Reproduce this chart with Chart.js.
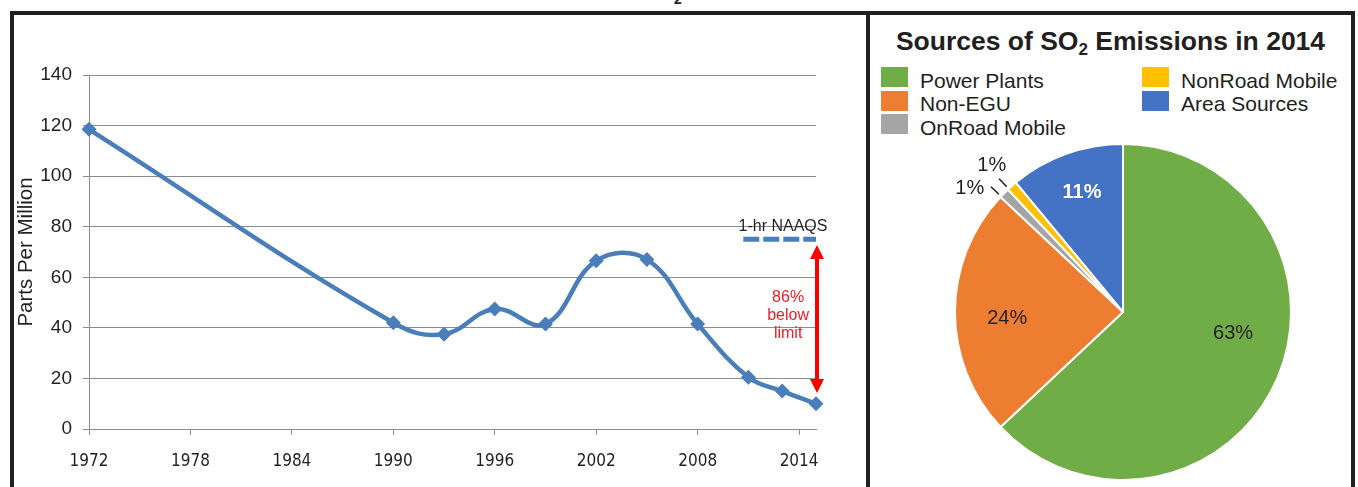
<!DOCTYPE html>
<html>
<head>
<meta charset="utf-8">
<script src="https://cdn.jsdelivr.net/npm/chart.js@4.4.1/dist/chart.umd.min.js"></script>
<style>
  body { margin: 0; background: #fff; width: 1358px; height: 487px; overflow: hidden; position: relative;
         font-family: "Liberation Sans", Arial, sans-serif; color: #231f20; }
  #frame { position: absolute; left: 10px; top: 11px; width: 1345px; height: 490px; border: 4px solid #231f20;
           border-bottom: none; box-sizing: border-box; }
  #divider { position: absolute; left: 866px; top: 11px; width: 4px; height: 476px; background: #231f20; }
  #cut { position: absolute; left: 674px; top: -9px; font-size: 14px; font-weight: bold; }
  #lineBox { position: absolute; left: 14px; top: 15px; }
  #pieBox { position: absolute; left: 948px; top: 137px; }
  #pieTitle { position: absolute; left: 870px; width: 481px; top: 28px; text-align: center; font-weight: bold;
              font-size: 26.5px; line-height: 26px; white-space: nowrap; }
  #pieTitle sub { font-size: 17px; position: relative; top: 5px; vertical-align: baseline; }
  #legend { position: absolute; left: 881px; top: 68.5px; display: grid; grid-template-columns: 261px 210px;
            grid-template-rows: repeat(3, 23.5px); grid-auto-flow: column; font-size: 21px; line-height: 23.5px; }
  .item { display: flex; align-items: flex-start; white-space: nowrap; }
  .sw { width: 27px; height: 20px; margin-top: -1.5px; margin-right: 12px; flex: none; }
</style>
</head>
<body>
<div id="frame"></div>
<div id="divider"></div>
<div id="cut">2</div>
<div id="lineBox"><canvas id="lineChart" width="852" height="472"></canvas></div>
<div id="pieTitle">Sources of SO<sub>2</sub> Emissions in 2014</div>
<div id="legend"></div>
<div id="pieBox"><canvas id="pieChart" width="350" height="350"></canvas></div>
<script>
// SO2 concentration, parts per million
const years = [1972, 1990, 1993, 1996, 1999, 2002, 2005, 2008, 2011, 2013, 2015];
const ppm = [118.5, 42, 37.5, 47.5, 41.5, 66.5, 67, 41.5, 20.5, 15, 10];
const yearTicks = [1972, 1978, 1984, 1990, 1996, 2002, 2008, 2014];
const ppmTicks = [0, 20, 40, 60, 80, 100, 120, 140];

// 1-hr NAAQS note
const naaqsLevel = 75;
const naaqsFrom = 2010.7;
const naaqsTo = 2015;
const arrowTop = 72.8;
const arrowBottom = 14.2;
const belowText = ['86%', 'below', 'limit'];

// 2014 sources
const sources = ['Power Plants', 'Non-EGU', 'OnRoad Mobile', 'NonRoad Mobile', 'Area Sources'];
const shares = [63, 24, 1, 1, 11];
const sourceColors = ['#70ad47', '#ed7d31', '#a5a5a5', '#ffc000', '#4472c4'];

const gridGray = '#8c8c8c';
const ink = '#231f20';

// legend, two columns like the original
const legend = document.getElementById('legend');
sources.forEach((s, i) => {
  const d = document.createElement('div');
  d.className = 'item';
  d.innerHTML = '<span class="sw" style="background:' + sourceColors[i] + '"></span><span>' + s + '</span>';
  legend.appendChild(d);
});

const naaqsNote = {
  id: 'naaqsNote',
  afterDatasetsDraw(chart) {
    const ctx = chart.ctx;
    const x = chart.scales.x, y = chart.scales.y;
    ctx.save();
    // dashed limit line
    ctx.strokeStyle = '#4a7ebb';
    ctx.lineWidth = 5;
    ctx.setLineDash([16, 4]);
    ctx.beginPath();
    ctx.moveTo(x.getPixelForValue(naaqsFrom), y.getPixelForValue(naaqsLevel));
    ctx.lineTo(x.getPixelForValue(naaqsTo), y.getPixelForValue(naaqsLevel));
    ctx.stroke();
    ctx.setLineDash([]);
    ctx.fillStyle = ink;
    ctx.font = '16px "Liberation Sans", Arial, sans-serif';
    ctx.textAlign = 'center';
    ctx.textBaseline = 'middle';
    ctx.fillText('1-hr NAAQS', x.getPixelForValue(2013.05), y.getPixelForValue(80));

    // red double arrow
    const ax = x.getPixelForValue(naaqsTo) + 1;
    const yt = y.getPixelForValue(arrowTop), yb = y.getPixelForValue(arrowBottom);
    ctx.strokeStyle = '#ff0000';
    ctx.fillStyle = '#ff0000';
    ctx.lineWidth = 4;
    ctx.beginPath();
    ctx.moveTo(ax, yt + 10);
    ctx.lineTo(ax, yb - 10);
    ctx.stroke();
    ctx.beginPath();
    ctx.moveTo(ax, yt); ctx.lineTo(ax - 7, yt + 14); ctx.lineTo(ax + 7, yt + 14); ctx.closePath();
    ctx.moveTo(ax, yb); ctx.lineTo(ax - 7, yb - 14); ctx.lineTo(ax + 7, yb - 14); ctx.closePath();
    ctx.fill();

    ctx.fillStyle = '#ee1c25';
    const tx = x.getPixelForValue(2013.35), ty = y.getPixelForValue(45);
    belowText.forEach((t, i) => ctx.fillText(t, tx, ty + (i - 1) * 18));
    ctx.restore();
  }
};

new Chart(document.getElementById('lineChart'), {
  type: 'line',
  data: {
    datasets: [{
      data: years.map((yr, i) => ({ x: yr, y: ppm[i] })),
      borderColor: '#4a7ebb',
      backgroundColor: '#4a7ebb',
      borderWidth: 4.5,
      tension: 0.4,
      pointStyle: 'rectRot',
      pointRadius: 7.5,
      pointBorderWidth: 0,
      clip: false
    }]
  },
  options: {
    responsive: false,
    animation: false,
    layout: { padding: { top: 60, right: 50, left: 0, bottom: 0 } },
    plugins: { legend: { display: false }, tooltip: { enabled: false } },
    scales: {
      x: {
        type: 'linear',
        min: 1972,
        max: 2015,
        afterBuildTicks: s => { s.ticks = yearTicks.map(v => ({ value: v })); },
        afterFit: s => { s.height = 58; },
        ticks: {
          callback: v => String(v),
          autoSkip: false, maxRotation: 0, padding: 16, color: ink,
          font: { family: '"Liberation Sans Narrow", "DejaVu Sans Condensed", sans-serif', size: 17 }
        },
        grid: { drawOnChartArea: false, tickLength: 6, color: gridGray },
        border: { color: gridGray }
      },
      y: {
        min: 0,
        max: 140,
        afterBuildTicks: s => { s.ticks = ppmTicks.map(v => ({ value: v })); },
        afterFit: s => { s.width = 75; },
        ticks: { padding: 11, color: ink, font: { family: '"Liberation Sans", Arial, sans-serif', size: 19 } },
        grid: { tickLength: 6, color: gridGray },
        border: { color: gridGray },
        title: {
          display: true, text: 'Parts Per Million', color: ink, padding: { top: 0, bottom: 0 },
          font: { family: '"Liberation Sans", Arial, sans-serif', size: 20.5 }
        }
      }
    }
  },
  plugins: [naaqsNote]
});

// percentage labels; small slices get a label outside with a short leader
const sliceLabels = {
  id: 'sliceLabels',
  afterDatasetsDraw(chart, args, opts) {
    const ctx = chart.ctx;
    const arcs = chart.getDatasetMeta(0).data;
    ctx.save();
    ctx.textAlign = 'center';
    ctx.textBaseline = 'middle';
    arcs.forEach((arc, i) => {
      const p = arc.getProps(['x', 'y', 'startAngle', 'endAngle', 'outerRadius'], true);
      const spot = opts.spots[i];
      const mid = (p.startAngle + p.endAngle) / 2;
      const a = mid + spot.shift * Math.PI / 180;
      const r = p.outerRadius * spot.r;
      ctx.fillStyle = spot.color || ink;
      ctx.font = (spot.bold ? 'bold ' : '') + '20px "Liberation Sans", Arial, sans-serif';
      ctx.fillText(shares[i] + '%', p.x + Math.cos(a) * r, p.y + Math.sin(a) * r);
      if (spot.leader) {
        const la = mid - 1.5 * Math.PI / 180;
        ctx.strokeStyle = ink;
        ctx.lineWidth = 1.5;
        ctx.beginPath();
        ctx.moveTo(p.x + Math.cos(la) * (p.outerRadius + 3), p.y + Math.sin(la) * (p.outerRadius + 3));
        ctx.lineTo(p.x + Math.cos(la) * (p.outerRadius + 14), p.y + Math.sin(la) * (p.outerRadius + 14));
        ctx.stroke();
      }
    });
    ctx.restore();
  }
};

new Chart(document.getElementById('pieChart'), {
  type: 'pie',
  data: {
    labels: sources,
    datasets: [{ data: shares, backgroundColor: sourceColors, borderColor: '#fff', borderWidth: 2 }]
  },
  options: {
    responsive: false,
    animation: false,
    layout: { padding: 6 },
    plugins: {
      legend: { display: false },
      tooltip: { enabled: false },
      sliceLabels: {
        spots: [
          { r: 0.667, shift: -12.6 },
          { r: 0.69, shift: -3 },
          { r: 1.17, shift: -6.2, leader: true },
          { r: 1.17, shift: -0.5, leader: true },
          { r: 0.75, shift: 0.8, color: '#fff', bold: true }
        ]
      }
    }
  },
  plugins: [sliceLabels]
});
</script>
</body>
</html>
